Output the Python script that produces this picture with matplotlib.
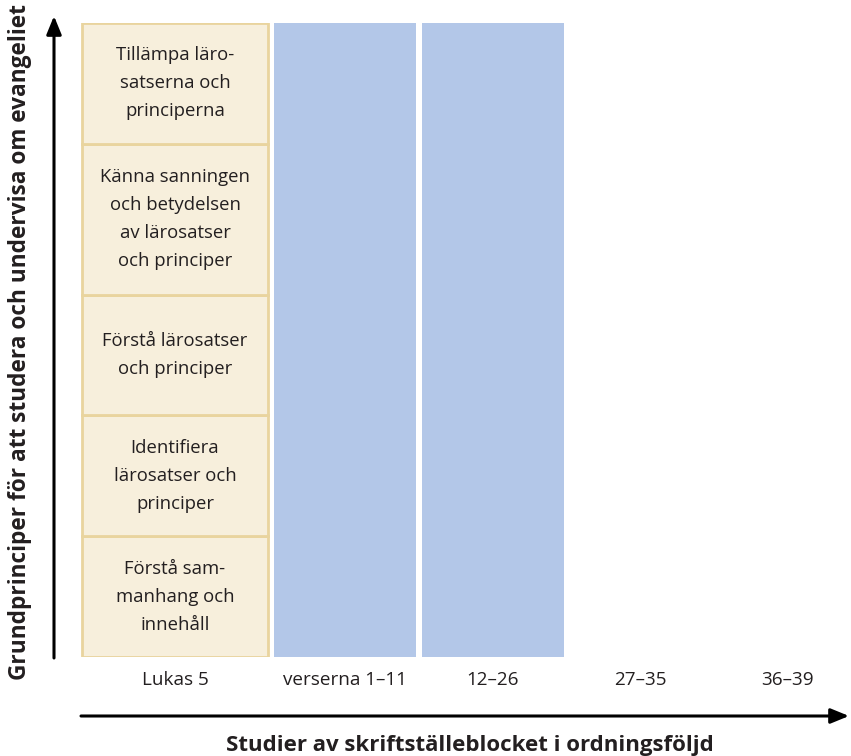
import matplotlib.pyplot as plt

plt.rcParams['font.family'] = ['Open Sans', 'DejaVu Sans']

# columns along the x axis
columns = ['Lukas 5', 'verserna 1–11', '12–26', '27–35', '36–39']
# first column: stacked steps, bottom to top, with relative heights
steps = ['Förstå sam-\nmanhang och\ninnehåll',
         'Identifiera\nlärosatser och\nprinciper',
         'Förstå lärosatser\noch principer',
         'Känna sanningen\noch betydelsen\nav lärosatser\noch principer',
         'Tillämpa läro-\nsatserna och\nprinciperna']
step_heights = [1, 1, 1, 1.25, 1]
# which of the other columns are filled (studied so far)
filled = [True, True, False, False]

xlabel = 'Studier av skriftställeblocket i ordningsföljd'
ylabel = 'Grundprinciper för att studera och undervisa om evangeliet'

cream = '#F7EFDC'
gold = '#E9D49E'
blue = '#B3C7E8'
ink = '#231F20'

W, H = 851, 756
fig = plt.figure(figsize=(W / 100, H / 100), dpi=100)
# axes covering the column area (pixels 81..851 horizontally, 23..657 vertically)
ax = fig.add_axes([81 / W, (H - 657) / H, (W - 81) / W, 634 / H])

unit = 147.0
centers = [0, 170 / unit] + [170 / unit + i * 147.5 / unit for i in range(1, 4)]
widths = [186 / unit] + [142 / unit] * 4
total = sum(step_heights)

# stacked steps in the first column
bottom = 0
for txt, h in zip(steps, step_heights):
    ax.bar(centers[0], h, width=widths[0], bottom=bottom, color=cream,
           edgecolor=gold, linewidth=2, zorder=2)
    ax.text(centers[0], bottom + h / 2, txt, ha='center', va='center',
            fontsize=13.3, color=ink, linespacing=1.72, zorder=3)
    bottom += h

for c, w, f in zip(centers[1:], widths[1:], filled):
    if f:
        ax.bar(c, total, width=w, color=blue, linewidth=0, zorder=2)

ax.set_xlim(-94 / unit, (W - 81 - 94) / unit)
ax.set_ylim(0, total)
ax.set_xticks(centers)
ax.set_xticklabels(columns, fontsize=13.6, color=ink)
ax.tick_params(axis='x', length=0, pad=10)
ax.set_yticks([])
for s in ax.spines.values():
    s.set_visible(False)

# axis arrows
arrow = dict(arrowstyle='-|>,head_length=1.1,head_width=0.45', color='black',
             lw=2.2, shrinkA=0, shrinkB=0)
ax.annotate('', xy=(54, H - 16), xytext=(54, H - 658), xycoords='figure pixels',
            textcoords='figure pixels', arrowprops=arrow)
ax.annotate('', xy=(849, H - 716), xytext=(81, H - 716), xycoords='figure pixels',
            textcoords='figure pixels', arrowprops=arrow)

fig.text(470 / W, (H - 745) / H, xlabel, ha='center', va='center',
         fontsize=16, fontweight='bold', color=ink)
fig.text(20 / W, (H - 342) / H, ylabel, ha='center', va='center', rotation=90,
         fontsize=16.3, fontweight='bold', color=ink)

fig.savefig('out.png', dpi=100)
